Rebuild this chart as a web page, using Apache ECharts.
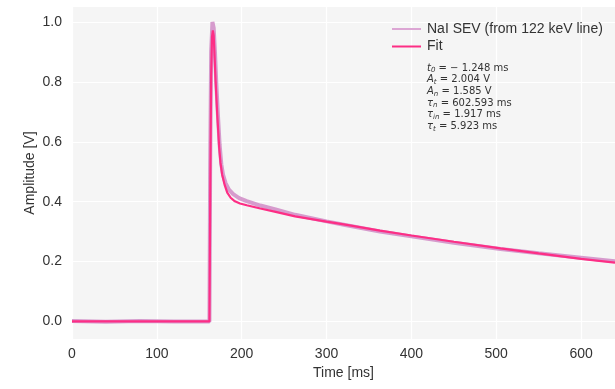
<!DOCTYPE html>
<html>
<head>
<meta charset="utf-8">
<script src="https://cdn.jsdelivr.net/npm/echarts@6/dist/echarts.min.js"></script>
<style>
  html, body { margin: 0; padding: 0; background: #fff; }
  #chart { width: 615px; height: 389px; }
</style>
</head>
<body>
<div id="chart"></div>
<script>
const sevTime = [0, 40, 80, 120, 162, 162.8, 164, 165.5, 167, 168.5, 170, 172, 174, 176, 178, 181, 185, 190, 197, 206, 222, 240, 263, 300, 322, 363, 400, 450, 505, 550, 600, 640];
const sevAmp = [0.001, -0.001, 0.001, 0.0, 0.0, 0.5, 0.9, 1.0, 0.98, 0.9, 0.8, 0.69, 0.59, 0.525, 0.49, 0.462, 0.44, 0.425, 0.412, 0.402, 0.387, 0.374, 0.356, 0.334, 0.322, 0.3, 0.284, 0.263, 0.242, 0.228, 0.213, 0.201];

// fitted pulse
const fitTime = [0, 162, 163, 164, 165, 166, 167, 168, 169.3, 171.2, 173.5, 175, 177, 180, 183, 187, 192, 198, 206, 222, 240, 263, 300, 322, 363, 400, 450, 505, 550, 600, 640];
const fitAmp = [0.0, 0.0, 0.45, 0.82, 0.95, 0.972, 0.955, 0.89, 0.8, 0.69, 0.58, 0.53, 0.49, 0.455, 0.43, 0.413, 0.401, 0.394, 0.388, 0.377, 0.366, 0.351, 0.333, 0.323, 0.303, 0.287, 0.266, 0.244, 0.227, 0.209, 0.196];

const xTicks = [0, 100, 200, 300, 400, 500, 600];
const yTicks = [0.0, 0.2, 0.4, 0.6, 0.8, 1.0];

const seriesNames = ["NaI SEV (from 122 keV line)", "Fit"];
const fitParams = [
  ["t", "0", "= \u2212 1.248 ms"],
  ["A", "t", "= 2.004 V"],
  ["A", "n", "= 1.585 V"],
  ["\u03c4", "n", "= 602.593 ms"],
  ["\u03c4", "in", "= 1.917 ms"],
  ["\u03c4", "t", "= 5.923 ms"],
];

const FONT = "'Liberation Sans', Arial, sans-serif";
const MATH = "'DejaVu Sans', sans-serif";
const TEXT = "#333333";

const chart = echarts.init(document.getElementById("chart"));

const paramText = fitParams.map((p) => `{i|${p[0]}}{s|${p[1]}}{n| ${p[2]}}`).join("\n");

chart.setOption({
  animation: false,
  backgroundColor: "#ffffff",
  grid: { left: 72, right: 0, top: 7, bottom: 50, show: true, backgroundColor: "#f5f5f5", borderWidth: 0 },
  legend: {
    orient: "vertical",
    left: 387,
    top: 17,
    itemWidth: 29,
    itemHeight: 16,
    itemGap: 3.5,
    icon: "path://M0,7 L29,7 L29,9 L0,9 Z",
    textStyle: { fontFamily: FONT, fontSize: 14, color: TEXT, padding: [0, 0, 0, 1] },
    data: [
      { name: seriesNames[0], itemStyle: { color: "#dca6d4" } },
      { name: seriesNames[1], itemStyle: { color: "#fd2e85" } },
    ],
  },
  xAxis: {
    type: "value",
    min: 0,
    max: 640,
    name: "Time [ms]",
    nameLocation: "middle",
    nameGap: 27,
    nameMoveOverlap: false,
    nameTextStyle: { fontFamily: FONT, fontSize: 14, color: TEXT },
    axisLine: { show: false },
    axisTick: { show: false, customValues: xTicks },
    axisLabel: { customValues: xTicks, fontFamily: FONT, fontSize: 14, color: TEXT, margin: 8 },
    splitLine: { show: true, lineStyle: { color: "#ffffff", width: 1.2 } },
  },
  yAxis: {
    type: "value",
    min: -0.0587,
    max: 1.05,
    name: "Amplitude [V]",
    nameLocation: "middle",
    nameGap: 35,
    nameMoveOverlap: false,
    nameTextStyle: { fontFamily: FONT, fontSize: 14, color: TEXT },
    axisLine: { show: false },
    axisTick: { show: false, customValues: yTicks },
    axisLabel: {
      customValues: yTicks,
      fontFamily: FONT,
      fontSize: 14,
      color: TEXT,
      margin: 10,
      formatter: (v) => v.toFixed(1),
    },
    splitLine: { show: true, lineStyle: { color: "#ffffff", width: 1.2 } },
  },
  series: [
    {
      name: seriesNames[0],
      type: "line",
      showSymbol: false,
      symbol: "none",
      color: "#d69bcd",
      lineStyle: { width: 4, color: "#d69bcd" },
      z: 2,
      data: sevTime.map((t, i) => [t, sevAmp[i]]),
    },
    {
      name: seriesNames[1],
      type: "line",
      showSymbol: false,
      symbol: "none",
      color: "#fd2e85",
      lineStyle: { width: 2.2, color: "#fd2e85" },
      z: 3,
      data: fitTime.map((t, i) => [t, fitAmp[i]]),
    },
  ],
  graphic: [
    {
      type: "text",
      left: 427,
      top: 63,
      z: 10,
      style: {
        text: paramText,
        fill: TEXT,
        rich: {
          i: { fontFamily: MATH, fontSize: 10, fontStyle: "italic", lineHeight: 11.7, verticalAlign: "middle", fill: TEXT },
          s: { fontFamily: MATH, fontSize: 7, fontStyle: "italic", lineHeight: 6, verticalAlign: "bottom", fill: TEXT },
          n: { fontFamily: MATH, fontSize: 10, lineHeight: 11.7, verticalAlign: "middle", fill: TEXT },
        },
      },
    },
  ],
});
</script>
</body>
</html>
